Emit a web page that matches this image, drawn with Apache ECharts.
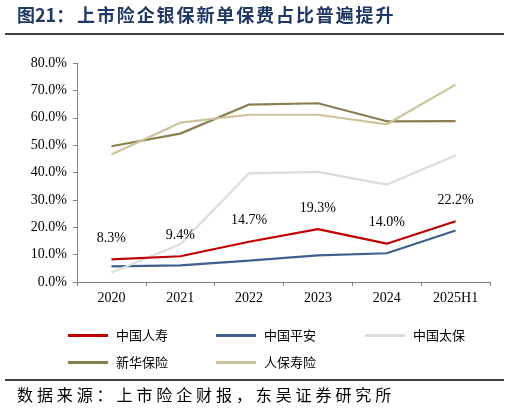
<!DOCTYPE html>
<html>
<head>
<meta charset="utf-8">
<script src="https://cdn.jsdelivr.net/npm/echarts@6/dist/echarts.min.js"></script>
<style>
  html, body { margin: 0; padding: 0; background: #fff; }
  #chart { width: 509px; height: 413px; }
</style>
</head>
<body>
<div id="chart"></div>
<script>
// 数据
const years = ['2020', '2021', '2022', '2023', '2024', '2025H1'];
const chinaLife = [8.3, 9.4, 14.7, 19.3, 14.0, 22.2];
const pingAn = [5.7, 6.1, 7.8, 9.7, 10.5, 18.8];
const cpic = [3.5, 13.8, 39.7, 40.2, 35.6, 46.2];
const newChina = [49.6, 54.2, 64.8, 65.3, 58.7, 58.8];
const piccLife = [46.6, 58.2, 61.1, 61.1, 57.6, 72.1];
const yTicks = [0, 10, 20, 30, 40, 50, 60, 70, 80];
const names = ['中国人寿', '中国平安', '中国太保', '新华保险', '人保寿险'];

const serif = '"Liberation Serif", "Times New Roman", serif';
const cjk = '"Noto Sans CJK SC", sans-serif';

const chart = echarts.init(document.getElementById('chart'));

function line(name, data, color, extra) {
  return Object.assign({
    name: name,
    type: 'line',
    data: data,
    symbol: 'circle',
    symbolSize: 0,
    showSymbol: true,
    lineStyle: { color: color, width: 2.2 },
    itemStyle: { color: color },
  }, extra || {});
}

// 逐字排布（模拟原图较宽的字距）
function spaced(text, x, y, pitch, font, fill) {
  return text.split('').map((ch, i) => ({
    type: 'text', x: x + i * pitch, y: y,
    style: { text: ch, font: font, fill: fill },
  }));
}

// 图例：每项单独定位，排成两行
const legendPos = [[68, 329], [216, 329], [365, 329], [68, 356], [216, 356]];
const legends = names.map((n, i) => ({
  left: legendPos[i][0], top: legendPos[i][1],
  padding: 0,
  itemWidth: 40, itemHeight: 3,
  icon: 'rect',
  textStyle: { fontFamily: cjk, fontSize: 13, color: '#000', padding: [0, 0, 0, 3] },
  data: [n],
}));

const titleFont = 'bold 18px ' + cjk;
const footFont = '16px ' + cjk;

chart.setOption({
  animation: false,
  grid: { left: 77, right: 19, top: 63, bottom: 131 },
  xAxis: {
    type: 'category',
    data: years,
    boundaryGap: true,
    axisLine: { lineStyle: { color: '#808080', width: 1 } },
    axisTick: { show: true, length: 4, lineStyle: { color: '#808080' } },
    axisLabel: { color: '#000', fontFamily: serif, fontSize: 14, margin: 9 },
  },
  yAxis: {
    type: 'value',
    min: yTicks[0],
    max: yTicks[yTicks.length - 1],
    interval: 10,
    splitLine: { show: false },
    axisLine: { show: true, lineStyle: { color: '#808080', width: 1 } },
    axisTick: { show: true, length: 4, lineStyle: { color: '#808080' } },
    axisLabel: {
      color: '#000', fontFamily: serif, fontSize: 14, margin: 10,
      formatter: v => v.toFixed(1) + '%',
    },
  },
  legend: legends,
  series: [
    line('中国人寿', chinaLife, '#C00000', {
      z: 5,
      label: {
        show: true, position: 'top', distance: 14,
        fontFamily: serif, fontSize: 14, color: '#000',
        formatter: p => p.value.toFixed(1) + '%',
      },
    }),
    line('中国平安', pingAn, '#3E5F8F'),
    line('中国太保', cpic, '#DCDCDC'),
    line('新华保险', newChina, '#8A7D4E'),
    line('人保寿险', piccLife, '#CFC29B'),
  ],
  graphic: [].concat(
    [{ type: 'text', x: 17, y: 6, style: { text: '图21：', font: titleFont, fill: '#1F3864' } }],
    spaced('上市险企银保新单保费占比普遍提升', 77, 6, 19.9, titleFont, '#1F3864'),
    [
      { type: 'line', shape: { x1: 5, y1: 34, x2: 504, y2: 34 }, style: { stroke: '#000', lineWidth: 1.5 } },
      { type: 'line', shape: { x1: 5, y1: 380, x2: 504, y2: 380 }, style: { stroke: '#000', lineWidth: 1.5 } },
    ],
    spaced('数据来源：上市险企财报，东吴证券研究所', 17, 387, 19.9, footFont, '#000')
  ),
});
</script>
</body>
</html>
